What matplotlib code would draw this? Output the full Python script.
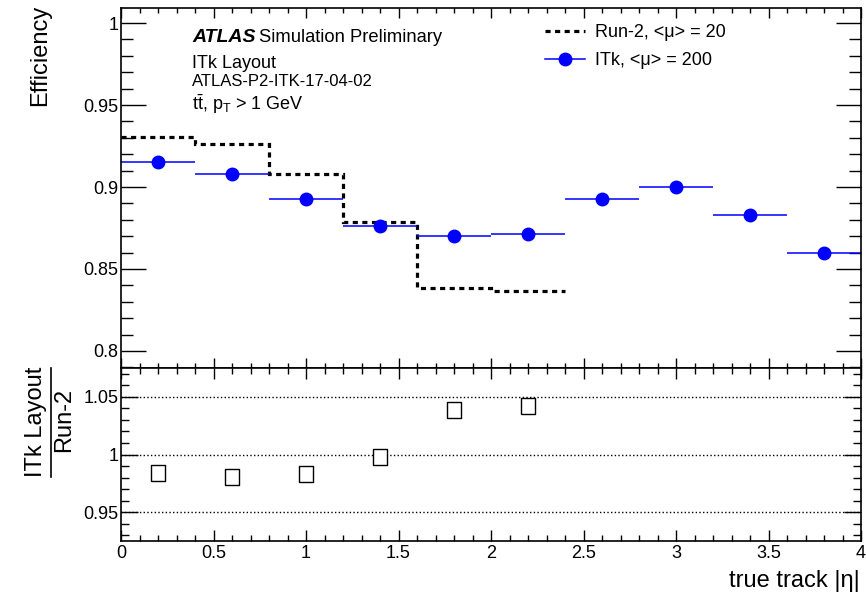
import numpy as np
import matplotlib
matplotlib.use('Agg')
import matplotlib.pyplot as plt
from matplotlib.lines import Line2D
from matplotlib.ticker import MultipleLocator

plt.rcParams['font.family'] = ['Liberation Sans', 'DejaVu Sans']
plt.rcParams['mathtext.fontset'] = 'custom'
plt.rcParams['mathtext.rm'] = 'Liberation Sans'
plt.rcParams['mathtext.it'] = 'Liberation Sans:italic'

# eta bins
bin_edges_itk = [0.0, 0.4, 0.8, 1.2, 1.6, 2.0, 2.4, 2.8, 3.2, 3.6, 4.0]
bin_edges_run2 = [0.0, 0.4, 0.8, 1.2, 1.6, 2.0, 2.4]

# efficiencies
eff_itk = [0.9153, 0.9079, 0.8926, 0.8762, 0.8702, 0.8714, 0.8926, 0.9000, 0.8830, 0.8598]
eff_run2 = [0.9305, 0.9262, 0.9079, 0.8787, 0.8384, 0.8366]

# ratio ITk / Run-2
ratio_x = [0.2, 0.6, 1.0, 1.4, 1.8, 2.2]
ratio_vals = [0.9838, 0.9805, 0.9832, 0.9975, 1.0382, 1.0418]

W, H = 866, 596
fig = plt.figure(figsize=(W / 100, H / 100), dpi=100)

left, right = 121 / W, 861 / W
ax = fig.add_axes([left, 1 - 368 / H, right - left, (368 - 8) / H])
axr = fig.add_axes([left, 1 - 541 / H, right - left, (541 - 368) / H])

# --- main pane
edges = np.array(bin_edges_itk)
centers = 0.5 * (edges[:-1] + edges[1:])
halfw = 0.5 * np.diff(edges)

ax.stairs(eff_run2, bin_edges_run2, baseline=None, color='black',
          linewidth=2.3, linestyle=(0, (1.6, 1.4)))
ax.errorbar(centers, eff_itk, xerr=halfw, fmt='o', color='#0000ff',
            ms=9, elinewidth=1.1, capsize=0)

ax.set_xlim(0, 4)
ax.set_ylim(0.7896, 1.0092)
ax.yaxis.set_minor_locator(MultipleLocator(0.01))
ax.xaxis.set_major_locator(MultipleLocator(0.5))
ax.xaxis.set_minor_locator(MultipleLocator(0.1))
ax.set_yticks([0.8, 0.85, 0.9, 0.95, 1.0])
ax.set_yticklabels(['0.8', '0.85', '0.9', '0.95', '1'])
ax.tick_params(axis='y', which='major', direction='in', length=18, width=1,
               left=True, right=True, labelsize=13, pad=2)
ax.tick_params(axis='y', which='minor', direction='in', length=8.6, width=1,
               left=True, right=True)
ax.tick_params(axis='x', which='major', direction='in', length=7, width=1,
               top=True, bottom=True, labelbottom=False)
ax.tick_params(axis='x', which='minor', direction='in', length=3.6, width=1,
               top=True, bottom=True)
for s in ax.spines.values():
    s.set_linewidth(1.2)

leg_handles = [
    Line2D([], [], color='black', linewidth=2.3, linestyle=(0, (1.6, 1.4))),
    Line2D([], [], color='#0000ff', linewidth=1.1, marker='o', ms=9),
]
ax.legend(leg_handles, ['Run-2, <μ> = 20', 'ITk, <μ> = 200'],
          loc='upper left', bbox_to_anchor=(545 / W, 1 - 24 / H),
          bbox_transform=fig.transFigure, frameon=False, fontsize=13,
          handlelength=2.2, handletextpad=0.55, labelspacing=0.62,
          borderpad=0, borderaxespad=0)

tx = 192 / W
fig.text(tx, 1 - 37 / H, r'ATLAS', fontsize=14, fontweight='bold',
         fontstyle='italic', va='center')
fig.text(tx + 67 / W, 1 - 37 / H, 'Simulation Preliminary', fontsize=13.2,
         va='center')
fig.text(tx, 1 - 64 / H, 'ITk Layout', fontsize=13, va='center')
fig.text(tx, 1 - 81 / H, 'ATLAS-P2-ITK-17-04-02', fontsize=12, va='center')
fig.text(tx, 1 - 104 / H, r'$\mathrm{t\bar{t}}$, p$_\mathrm{T}$ > 1 GeV',
         fontsize=13, va='center')

fig.text(40 / W, 1 - 5 / H, 'Efficiency', rotation=90, fontsize=17,
         ha='center', va='top')

# --- ratio pane
for yv in [0.95, 1.0, 1.05]:
    axr.axhline(yv, color='black', linestyle=':', linewidth=1)
rect = [(-0.42, -0.5), (0.42, -0.5), (0.42, 0.5), (-0.42, 0.5), (-0.42, -0.5)]
axr.plot(ratio_x, ratio_vals, linestyle='none', marker=rect, ms=12,
         mfc='white', mec='black', mew=1)

axr.set_xlim(0, 4)
axr.set_ylim(0.925, 1.075)
axr.set_yticks([0.95, 1.0, 1.05])
axr.set_yticklabels(['0.95', '1', '1.05'])
axr.yaxis.set_minor_locator(MultipleLocator(0.01))
axr.xaxis.set_minor_locator(MultipleLocator(0.1))
axr.set_xticks([0, 0.5, 1, 1.5, 2, 2.5, 3, 3.5, 4])
axr.set_xticklabels(['0', '0.5', '1', '1.5', '2', '2.5', '3', '3.5', '4'])
axr.tick_params(axis='y', which='major', direction='in', length=12, width=1,
                left=True, right=True, labelsize=13, pad=2)
axr.tick_params(axis='y', which='minor', direction='in', length=6, width=1,
                left=True, right=True)
axr.tick_params(axis='x', which='major', direction='in', length=8, width=1,
                top=True, bottom=True, labelsize=13, pad=3)
axr.tick_params(axis='x', which='minor', direction='in', length=4, width=1,
                top=True, bottom=True)
for s in axr.spines.values():
    s.set_linewidth(1.2)

fig.text(36 / W, 1 - 422 / H, 'ITk Layout', rotation=90, fontsize=17,
         ha='center', va='center')
fig.text(64 / W, 1 - 420 / H, 'Run-2', rotation=90, fontsize=17,
         ha='center', va='center')
fig.add_artist(Line2D([51 / W, 51 / W], [1 - 368 / H, 1 - 477 / H],
                      transform=fig.transFigure, color='black', linewidth=1.2))

fig.text(860 / W, 1 - 581 / H, 'true track |η|', fontsize=17,
         ha='right', va='center')

fig.savefig('out.png', dpi=100)
